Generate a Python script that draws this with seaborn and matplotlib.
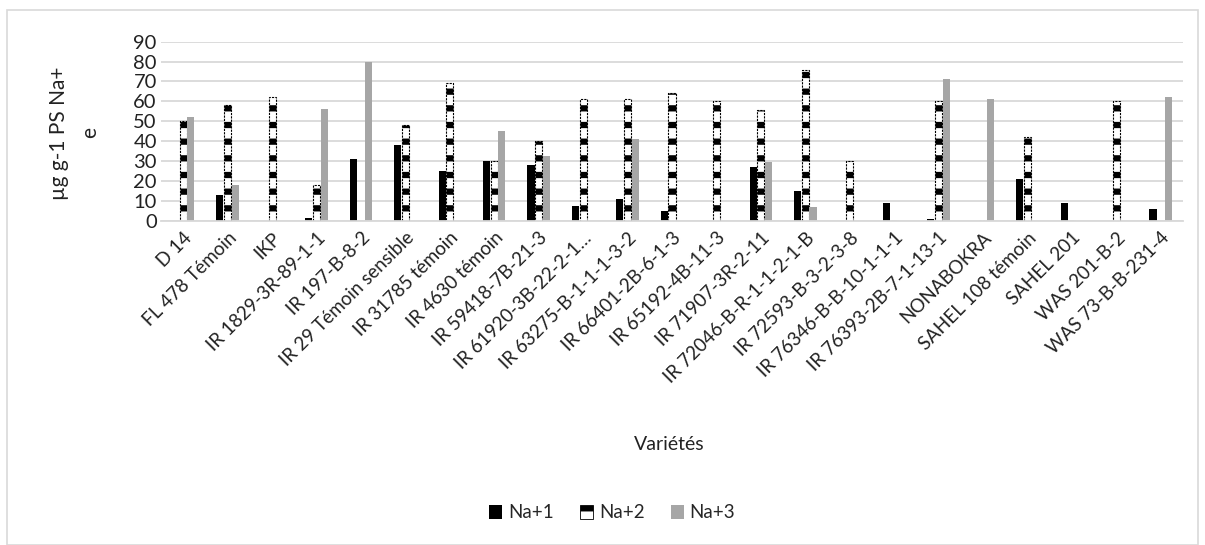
import matplotlib
matplotlib.use("Agg")
import matplotlib.pyplot as plt
import seaborn as sns
import pandas as pd
from matplotlib.patches import Patch, Rectangle

varietes = ["D 14", "FL 478 Témoin", "IKP", "IR 1829-3R-89-1-1", "IR 197-B-8-2",
            "IR 29 Témoin sensible", "IR 31785 témoin", "IR 4630 témoin", "IR 59418-7B-21-3",
            "IR 61920-3B-22-2-1…", "IR 63275-B-1-1-1-3-2", "IR 66401-2B-6-1-3",
            "IR 65192-4B-11-3", "IR 71907-3R-2-11", "IR 72046-B-R-1-1-2-1-B",
            "IR 72593-B-3-2-3-8", "IR 76346-B-B-10-1-1-1", "IR 76393-2B-7-1-13-1",
            "NONABOKRA", "SAHEL 108 témoin", "SAHEL 201", "WAS 201-B-2", "WAS 73-B-B-231-4"]
na1 = [0, 13, 0, 1.5, 31, 38, 25, 30, 28, 7.5, 11, 5, 0, 27, 15, 0, 9, 1, 0, 21, 9, 0, 6]
na2 = [50, 58, 62, 18, 0, 48, 69, 30, 40, 61, 61, 64, 60, 55.5, 76, 30, 0, 60, 0, 42, 0, 60, 0]
na3 = [52, 18, 0, 56, 80, 0, 0, 45, 32.5, 0, 41, 0, 0, 29.5, 7, 0, 0, 71, 61, 0, 0, 0, 62]
series = ["Na+1", "Na+2", "Na+3"]
colors = ["#000000", "#ffffff", "#a6a6a6"]
yticks = [0, 10, 20, 30, 40, 50, 60, 70, 80, 90]

df = pd.DataFrame({
    "Variété": varietes * 3,
    "Série": [s for s in series for _ in varietes],
    "Valeur": na1 + na2 + na3,
})

sns.set_theme(style="white")
plt.rcParams["font.family"] = ["Lato", "DejaVu Sans"]
plt.rcParams["hatch.linewidth"] = 4.5

fig = plt.figure(figsize=(12.05, 5.45), dpi=100)
ax = fig.add_axes([0.1336, 0.595, 0.9817 - 0.1336, 0.9235 - 0.595])

sns.barplot(data=df, x="Variété", y="Valeur", hue="Série", hue_order=series,
            palette=colors, width=0.52, gap=0.08, ax=ax, legend=False,
            saturation=1, errorbar=None)

for bar in ax.containers[1]:
    bar.set_edgecolor("black")
    bar.set_hatch("-")
    bar.set_linestyle((0, (2, 1)))
    bar.set_linewidth(0.8)
for c in (ax.containers[0], ax.containers[2]):
    for bar in c:
        bar.set_linewidth(0)

ax.set_ylim(0, 90)
ax.set_xlim(-0.5, len(varietes) - 0.5)
ax.set_yticks(yticks)
ax.set_yticklabels([str(v) for v in yticks], fontsize=14.5, color="#222222")
ax.yaxis.grid(True, color="#d9d9d9", linewidth=1.3)
ax.set_axisbelow(True)
for s in ["left", "right", "top"]:
    ax.spines[s].set_visible(False)
ax.spines["bottom"].set_color("#d9d9d9")
ax.spines["bottom"].set_linewidth(1.3)
ax.tick_params(axis="both", length=0, pad=3)
ax.tick_params(axis="x", pad=6)
ax.set_xticks(range(len(varietes)))
ax.set_xticklabels(varietes, rotation=45, ha="right", rotation_mode="anchor",
                   fontsize=13.5, color="#222222")
ax.set_xlabel("")
ax.set_ylabel("")

fig.text(0.555, 1 - 444 / 545, "Variétés", ha="center", va="center",
         fontsize=14, color="#222222")
fig.text(0.062, 1 - 133 / 545, "µg g-1 PS Na+\ne", rotation=90, ha="center",
         va="center", multialignment="center", fontsize=15, color="#222222",
         linespacing=1.7)

handles = [Patch(facecolor="#000000", edgecolor="none"),
           Patch(facecolor="#ffffff", edgecolor="black", hatch="-", linewidth=0.6),
           Patch(facecolor="#a6a6a6", edgecolor="none")]
fig.legend(handles, series, loc="center", bbox_to_anchor=(0.508, 1 - 513 / 545),
           ncol=3, frameon=False, fontsize=13.5, handlelength=0.7, handleheight=0.7,
           handletextpad=0.3, columnspacing=1.4)

fig.patches.append(Rectangle((7 / 1205, 0), 1 - 14 / 1205, 1 - 10 / 545,
                             transform=fig.transFigure, fill=False,
                             edgecolor="#d9d9d9", linewidth=1.2))

fig.savefig("out.png", dpi=100)
